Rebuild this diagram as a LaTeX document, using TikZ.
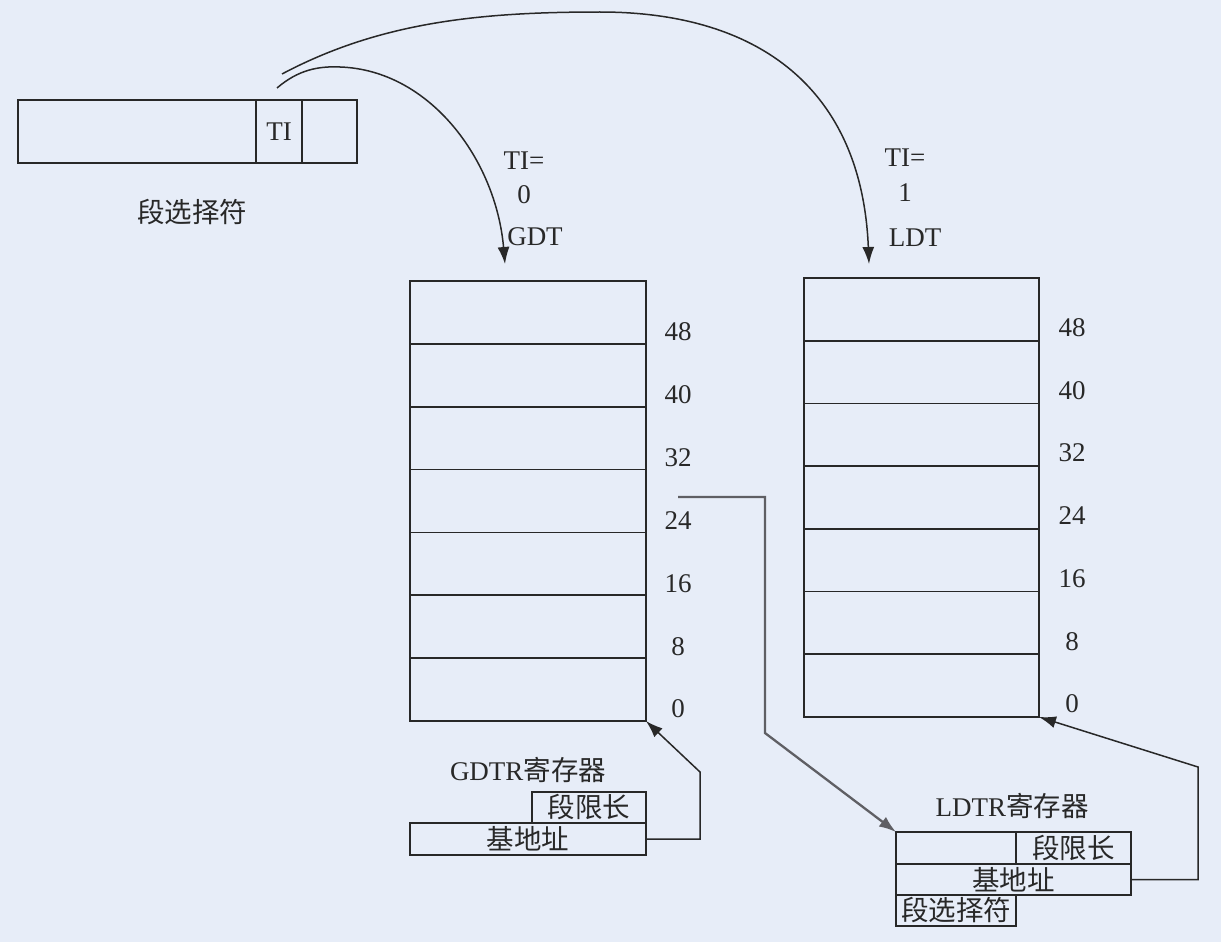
\documentclass[tikz,border=0pt]{standalone}
\usepackage{fontspec}
\setmainfont{Liberation Serif}
\newfontfamily\cjk{Noto Sans CJK SC}
\usetikzlibrary{arrows.meta}
\definecolor{bg}{RGB}{231,237,248}
\definecolor{ink}{RGB}{40,40,40}
\definecolor{wire}{RGB}{95,95,100}
\newcommand\latf{\fontsize{27}{31}\selectfont}
\newcommand\zhf{\cjk\fontsize{27.5}{31}\selectfont}
\begin{document}
\begin{tikzpicture}[x=1pt,y=-1pt,
  box/.style={draw=ink,line width=1.7pt,inner sep=0pt,outer sep=0pt,anchor=north west,text=ink},
  lbl/.style={inner sep=0pt,text=ink,font=\latf},
  zlbl/.style={inner sep=0pt,text=ink,font=\zhf},
  arr/.style={draw=ink,line width=1.5pt,-{Latex[length=17pt,width=12pt]}},
  garr/.style={draw=wire,line width=2.3pt,-{Latex[length=17pt,width=12pt]}}]
\fill[bg] (0,0) rectangle (1221,942);
\useasboundingbox (0,0) rectangle (1221,942);
% selector
\node[box,minimum width=238pt,minimum height=63pt] (selA) at (18,100) {};
\node[box,minimum width=46pt,minimum height=63pt,font=\latf] (selTI) at (256,100) {TI};
\node[box,minimum width=55pt,minimum height=63pt] (selC) at (302,100) {};
\node[zlbl] (selname) at (192,212) {段选择符};
% GDT
\foreach \i in {1,...,7} {
  \node[box,minimum width=236pt,minimum height=62.86pt] (g\i) at (410,{281+62.86*(\i-1)}) {};
}
\foreach \i/\t in {1/48,2/40,3/32,4/24,5/16,6/8,7/0} {
  \node[lbl] (gl\i) at (678,{281+62.86*\i-12}) {\t};
}
% LDT
\foreach \i in {1,...,7} {
  \node[box,minimum width=235pt,minimum height=62.71pt] (l\i) at (804,{278+62.71*(\i-1)}) {};
}
\foreach \i/\t in {1/48,2/40,3/32,4/24,5/16,6/8,7/0} {
  \node[lbl] (ll\i) at (1072,{278+62.71*\i-13}) {\t};
}
% TI labels
\node[lbl] (ga) at (524,161) {TI=};
\node[lbl] (gb) at (524,195) {0};
\node[lbl] (gc) at (535,237) {GDT};
\node[lbl] (la) at (905,158) {TI=};
\node[lbl] (lb) at (905,193) {1};
\node[lbl] (lc) at (915,238) {LDT};
% GDTR
\node[inner sep=0pt,text=ink] (gdtrname) at (528,770) {\latf GDTR\zhf 寄存器};
\node[box,minimum width=114pt,minimum height=31pt,font=\zhf] (gdtrA) at (532,792) {段限长};
\node[box,minimum width=236pt,minimum height=32pt,font=\zhf] (gdtrB) at (410,823) {基地址};
% LDTR
\node[inner sep=0pt,text=ink] (ldtrname) at (1012,806) {\latf LDTR\zhf 寄存器};
\node[box,minimum width=120pt,minimum height=32pt] (ldtrA) at (896,832) {};
\node[box,minimum width=115pt,minimum height=32pt,font=\zhf] (ldtrB) at (1016,832) {段限长};
\node[box,minimum width=235pt,minimum height=31pt,font=\zhf] (ldtrC) at (896,864) {基地址};
\node[box,minimum width=120pt,minimum height=31pt,font=\zhf] (ldtrD) at (896,895) {段选择符};
% connectors
\coordinate (tiG) at (277,88);
\coordinate (tiL) at (282,74);
\coordinate (gdtIn) at (505,264);
\coordinate (ldtIn) at (869,264);
\draw[arr] (tiG) .. controls (298,70) and (318,66) .. (340,67) .. controls (430,70) and (496,160) .. (gdtIn);
\draw[arr] (tiL) .. controls (380,22) and (480,12) .. (600,12) .. controls (760,12) and (862,90) .. (ldtIn);
\coordinate (e24) at (678,497);
\draw[garr] (e24) -- (765,497) -- (765,733) -- (ldtrA.north west);
\draw[arr] (gdtrB.east) -- ++(54,0) -- (700,772) -- (g7.south east);
\draw[arr] (ldtrC.east) -- ++(67,0) -- (1198,767) -- (l7.south east);
\end{tikzpicture}
\end{document}
